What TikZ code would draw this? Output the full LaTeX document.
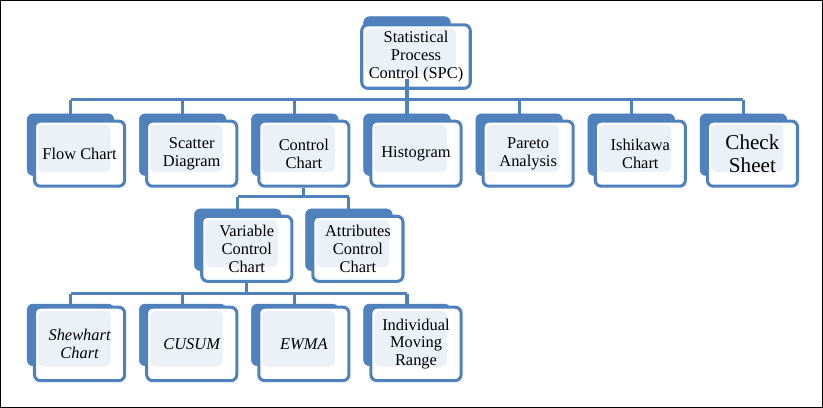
\documentclass[tikz,border=0pt]{standalone}
\usepackage{fontspec}
\setmainfont{Liberation Serif}
\usetikzlibrary{positioning}
\definecolor{boxblue}{RGB}{79,129,189}
\definecolor{boxfill}{RGB}{236,241,248}
\tikzset{
    backbox/.style = {draw=boxblue, fill=boxblue, rounded corners=5pt, minimum width=2.6cm, minimum height=1.85cm},
    frontbox/.style = {draw=boxblue, line width=2.6pt, fill=white, rounded corners=5pt, minimum width=2.7cm, minimum height=1.95cm,
        align=center, font=\fontsize{14}{15}\selectfont, path picture={\fill[boxfill] ([shift={(3pt,-3pt)}]path picture bounding box.north west) rectangle ([shift={(-12pt,12pt)}]path picture bounding box.south east);}},
    link/.style = {draw=boxblue, line width=2.6pt}
}
% front box with its back copy
\newcommand{\chartbox}[4][]{%
  \node[backbox] (#2b) at ([shift={(-9,-9)}]#3) {};
  \node[frontbox,#1] (#2) at (#3) {#4};
}
\begin{document}
\begin{tikzpicture}[x=0.03cm,y=-0.03cm]
    \draw[line width=0.8pt] (1,1) rectangle (822,407);

    %% top
    \chartbox[minimum width=3.25cm, minimum height=1.9cm]{spc}{416,57}{Statistical\\Process\\Control (SPC)}

    %% first row
    \foreach \nm/\cx/\txt in {flow/80/Flow Chart, scat/192/Scatter\\Diagram, ctrl/304/Control\\Chart,
        hist/416/Histogram, par/528/Pareto\\Analysis, ish/640/Ishikawa\\Chart}{
        \chartbox{\nm}{\cx,154}{\txt}
    }
    \chartbox[font=\fontsize{18}{19}\selectfont]{chk}{752,154}{Check\\Sheet}

    %% second row
    \chartbox{var}{247,249}{Variable\\Control\\Chart}
    \chartbox{attr}{358,249}{Attributes\\Control\\Chart}

    %% third row
    \chartbox[font=\fontsize{14}{15}\selectfont\itshape, minimum height=2.2cm]{shew}{80,344}{Shewhart\\Chart}
    \chartbox[font=\fontsize{14}{15}\selectfont\itshape, minimum height=2.2cm]{cus}{192,344}{CUSUM}
    \chartbox[font=\fontsize{14}{15}\selectfont\itshape, minimum height=2.2cm]{ewma}{304,344}{EWMA}
    \chartbox[minimum height=2.2cm]{ind}{416,344}{Individual\\Moving\\Range}

    %% connectors
    \coordinate (bar1) at (0,100);
    \draw[link] (spcb.south) -- (spcb.south |- bar1);
    \draw[link] (flowb.north |- bar1) -- (chkb.north |- bar1);
    \foreach \nm in {flow,scat,ctrl,hist,par,ish,chk}
        \draw[link] (\nm b.north) -- (\nm b.north |- bar1);

    \coordinate (bar2) at (0,197);
    \draw[link] (ctrl.south) -- (ctrl.south |- bar2);
    \draw[link] (varb.north |- bar2) -- (attrb.north |- bar2);
    \foreach \nm in {var,attr}
        \draw[link] (\nm b.north) -- (\nm b.north |- bar2);

    \coordinate (bar3) at (0,294);
    \draw[link] (var.south) -- (var.south |- bar3);
    \draw[link] (shewb.north |- bar3) -- (indb.north |- bar3);
    \foreach \nm in {shew,cus,ewma,ind}
        \draw[link] (\nm b.north) -- (\nm b.north |- bar3);
\end{tikzpicture}
\end{document}
